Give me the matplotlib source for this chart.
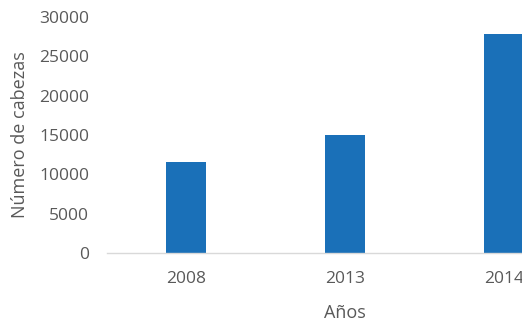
import matplotlib.pyplot as plt

# Datos
anios = ['2008', '2013', '2014']
cabezas = [11600, 15000, 27800]
y_ticks = [0, 5000, 10000, 15000, 20000, 25000, 30000]

gris = '#595959'
plt.rcParams['font.family'] = ['Open Sans', 'DejaVu Sans']

fig = plt.figure(figsize=(5.22, 3.24), dpi=100)
# el eje sigue más allá del borde derecho (la barra de 2014 queda cortada)
ax = fig.add_axes([107 / 522, 0.219, 476 / 522, 0.7284])

x = range(len(anios))
ax.bar(x, cabezas, width=0.25, color='#1a70b8')

ax.set_xlim(-0.5, 2.5)
ax.set_ylim(0, 30000)
ax.set_xticks(list(x))
ax.set_xticklabels(anios)
ax.set_yticks(y_ticks)
ax.set_yticklabels([str(v) for v in y_ticks])

for s in ['top', 'right', 'left']:
    ax.spines[s].set_visible(False)
ax.spines['bottom'].set_color('#d9d9d9')
ax.spines['bottom'].set_linewidth(1)

ax.tick_params(axis='both', length=0, labelsize=12.5, colors=gris)
ax.tick_params(axis='y', pad=13)
ax.tick_params(axis='x', pad=13)

ax.set_xlabel('Años', fontsize=13, color=gris, labelpad=12)
ax.set_ylabel('Número de cabezas', fontsize=13, color=gris, labelpad=7)

plt.savefig('out.png', dpi=100)
